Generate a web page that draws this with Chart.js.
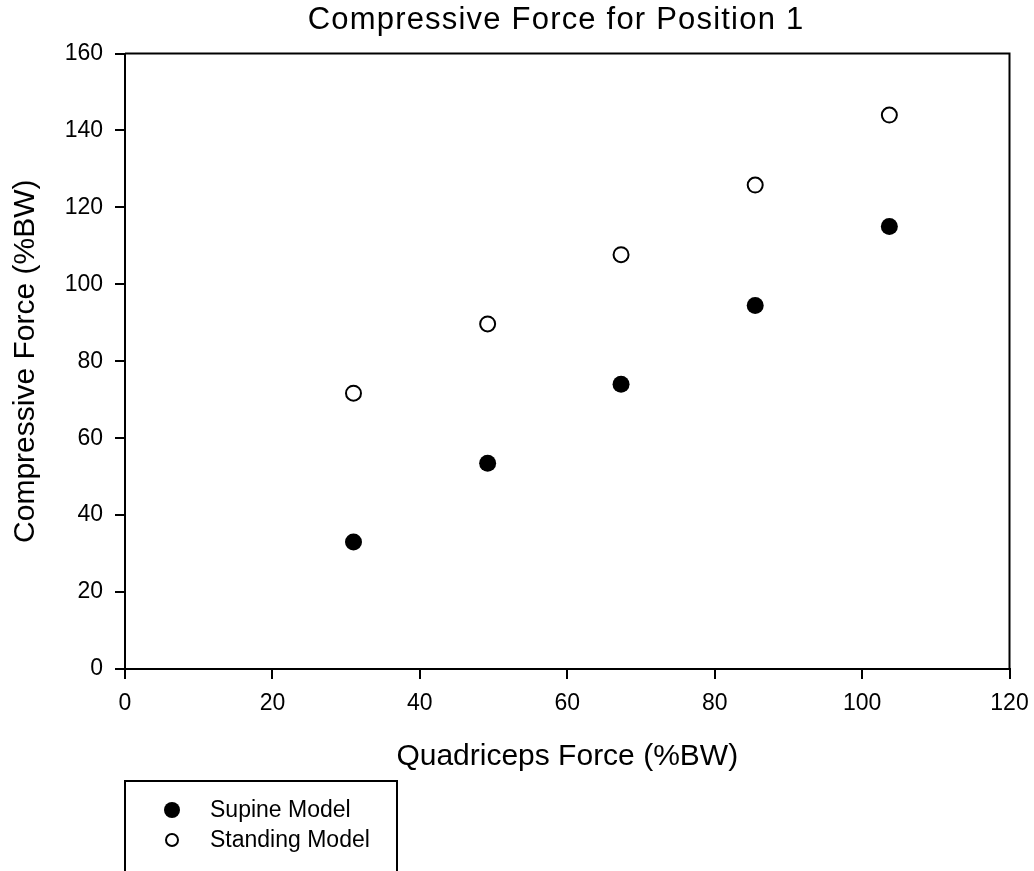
<!DOCTYPE html>
<html>
<head>
<meta charset="utf-8">
<script src="https://cdn.jsdelivr.net/npm/chart.js@4.4.0/dist/chart.umd.min.js"></script>
<style>
  html, body { margin: 0; padding: 0; background: #fff; }
  #wrap { width: 1034px; height: 871px; }
</style>
</head>
<body>
<div id="wrap"><canvas id="myChart" width="1034" height="871"></canvas></div>
<script>
var chartTitle = 'Compressive Force for Position 1';
var xTitle = 'Quadriceps Force (%BW)';
var yTitle = 'Compressive Force (%BW)';
var quadForce = [31, 49.2, 67.3, 85.5, 103.7];
var supineForce = [33, 53.5, 74, 94.5, 115];
var standingForce = [71.7, 89.7, 107.7, 125.8, 144];
var seriesNames = ['Supine Model', 'Standing Model'];

var FONT = 'Liberation Sans, Arial, sans-serif';

function toPoints(xs, ys) {
    return xs.map(function(x, i) { return { x: x, y: ys[i] }; });
}

// frame, title and boxed legend
var extras = {
    id: 'extras',
    beforeDatasetsDraw: function(chart) {
        var ctx = chart.ctx, a = chart.chartArea;
        ctx.save();
        ctx.strokeStyle = '#000';
        ctx.lineWidth = 2;
        ctx.beginPath();
        ctx.moveTo(a.left, a.top);
        ctx.lineTo(a.right, a.top);
        ctx.lineTo(a.right, a.bottom);
        ctx.stroke();
        ctx.restore();
    },
    afterDraw: function(chart) {
        var ctx = chart.ctx;
        ctx.save();
        ctx.fillStyle = '#000';
        ctx.font = '31px ' + FONT;
        ctx.letterSpacing = '1.2px';
        ctx.textAlign = 'center';
        ctx.textBaseline = 'alphabetic';
        ctx.fillText(chartTitle, 556, 29);
        ctx.letterSpacing = '0px';

        // legend box
        ctx.strokeStyle = '#000';
        ctx.lineWidth = 2;
        ctx.strokeRect(125, 781, 272, 100);
        ctx.font = '23px ' + FONT;
        ctx.textAlign = 'left';
        ctx.textBaseline = 'middle';
        chart.data.datasets.forEach(function(ds, i) {
            var cy = 810 + i * 30;
            ctx.beginPath();
            ctx.arc(172, cy, i === 0 ? 8 : 6, 0, Math.PI * 2);
            ctx.fillStyle = ds.backgroundColor;
            ctx.fill();
            if (i === 1) { ctx.lineWidth = 2; ctx.stroke(); }
            ctx.fillStyle = '#000';
            ctx.fillText(ds.label, 210, cy + 1);
        });
        ctx.restore();
    }
};

var config = {
    type: 'scatter',
    data: {
        datasets: [{
            label: seriesNames[0],
            data: toPoints(quadForce, supineForce),
            backgroundColor: '#000000',
            borderColor: '#000000',
            borderWidth: 0,
            pointRadius: 8.5
        }, {
            label: seriesNames[1],
            data: toPoints(quadForce, standingForce),
            backgroundColor: '#ffffff',
            borderColor: '#000000',
            borderWidth: 2,
            pointRadius: 7.5
        }]
    },
    plugins: [extras],
    options: {
        responsive: false,
        animation: false,
        layout: { padding: { left: 8, top: 53.5, right: 24.5, bottom: 96 } },
        plugins: {
            legend: { display: false },
            title: { display: false },
            tooltip: { enabled: false }
        },
        scales: {
            x: {
                type: 'linear',
                min: 0, max: 120,
                ticks: { stepSize: 20, color: '#000', padding: 11, font: { family: FONT, size: 23 } },
                grid: { drawOnChartArea: false, drawTicks: true, tickLength: 10, color: '#000', lineWidth: 2 },
                border: { color: '#000', width: 2 },
                title: { display: true, text: xTitle, color: '#000', padding: 0, font: { family: FONT, size: 30 } },
                afterFit: function(s) { s.height = 106; s.paddingLeft = 0; s.paddingRight = 0; }
            },
            y: {
                type: 'linear',
                min: 0, max: 160,
                ticks: { stepSize: 20, color: '#000', padding: 12, font: { family: FONT, size: 23 } },
                grid: { drawOnChartArea: false, drawTicks: true, tickLength: 10, color: '#000', lineWidth: 2 },
                border: { color: '#000', width: 2 },
                title: { display: true, text: yTitle, color: '#000', padding: 0, font: { family: FONT, size: 30 } },
                afterFit: function(s) { s.width = 117; s.paddingTop = 0; s.paddingBottom = 0; }
            }
        }
    }
};

window.onload = function() {
    var ctx = document.getElementById('myChart').getContext('2d');
    window.myScatter = new Chart(ctx, config);
};
</script>
</body>
</html>
